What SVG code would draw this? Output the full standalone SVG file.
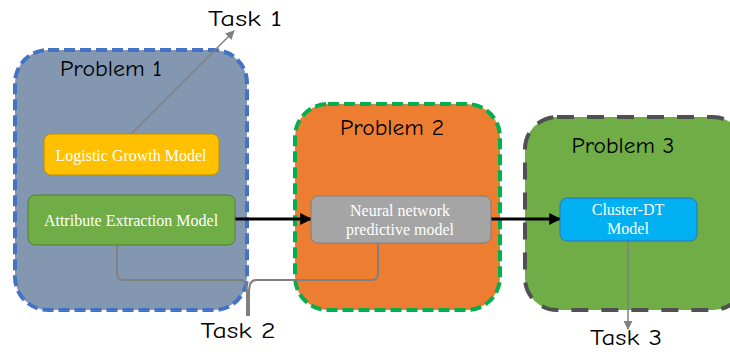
<svg xmlns="http://www.w3.org/2000/svg" width="730" height="352" viewBox="0 0 730 352">
<style>
.hand{font-family:"Comic Neue","DejaVu Sans",sans-serif;font-size:23px;fill:#000;text-anchor:middle}
.task{font-size:23px}
.lbl{font-family:"Liberation Serif","Times New Roman",serif;font-size:16px;fill:#fff;text-anchor:middle}
.prob{stroke-width:4}
.box{stroke-width:1}
.gray{fill:none;stroke:#808080}
.black{fill:none;stroke:#000;stroke-width:3}
</style>
<defs>
<marker id="ab" viewBox="0 0 10 10" refX="9" refY="5" markerWidth="4" markerHeight="4" orient="auto" markerUnits="strokeWidth"><path d="M0,0L10,5L0,10z" fill="#000"/></marker>
<marker id="ag" viewBox="0 0 10 10" refX="9" refY="5" markerWidth="6" markerHeight="6" orient="auto" markerUnits="strokeWidth"><path d="M0,0L10,5L0,10z" fill="#808080"/></marker>
</defs>
<rect width="730" height="352" fill="#fff"/>
<g id="problem1">
<rect class="prob" x="15" y="50" width="232" height="260" rx="33" fill="#8497B0" stroke="#4472C4" stroke-dasharray="11 5"/>
<text class="hand" x="111" y="76" textLength="102" lengthAdjust="spacingAndGlyphs">Problem 1</text>
</g>
<g id="problem2">
<rect class="prob" x="295" y="104" width="205" height="206" rx="33" fill="#ED7D31" stroke="#00B050" stroke-dasharray="11 5"/>
<text class="hand" x="392" y="135" textLength="104" lengthAdjust="spacingAndGlyphs">Problem 2</text>
</g>
<g id="problem3">
<rect class="prob" x="525" y="117" width="220" height="193" rx="32" fill="#70AD47" stroke="#505050" stroke-dasharray="17 13"/>
<text class="hand" x="623" y="153" textLength="103" lengthAdjust="spacingAndGlyphs">Problem 3</text>
</g>
<g id="connectors">
<line class="gray" x1="131" y1="134" x2="234" y2="31" stroke-width="1.5" marker-end="url(#ag)"/>
<line class="gray" x1="628" y1="241" x2="628" y2="329" stroke-width="1.5" marker-end="url(#ag)"/>
<path class="gray" stroke-width="2" d="M117,245 L117,273 Q117,280 124,280 L240,280 Q247,280 247,292 L247,316"/>
<path class="gray" stroke-width="2" d="M249,316 L249,292 Q249,280 256,280 L372,280 Q378,280 378,273 L378,243"/>
<line class="black" x1="235" y1="219" x2="311" y2="219" marker-end="url(#ab)"/>
<line class="black" x1="491" y1="219" x2="560" y2="219" marker-end="url(#ab)"/>
</g>
<g id="logistic">
<rect class="box" x="44" y="134" width="175" height="41" rx="7" fill="#FFC000" stroke="#BF9000"/>
<text class="lbl" x="131" y="161">Logistic Growth Model</text>
</g>
<g id="attribute">
<rect class="box" x="28" y="195" width="207" height="50" rx="7" fill="#70AD47" stroke="#507E32"/>
<text class="lbl" x="131" y="226">Attribute Extraction Model</text>
</g>
<g id="neural">
<rect class="box" x="311" y="196" width="180" height="47" rx="7" fill="#A5A5A5" stroke="#7F7F7F"/>
<text class="lbl" x="400" y="216">Neural network</text>
<text class="lbl" x="400" y="235">predictive model</text>
</g>
<g id="cluster">
<rect class="box" x="560" y="198" width="137" height="43" rx="7" fill="#00B0F0" stroke="#2E75B6"/>
<text class="lbl" x="628" y="215">Cluster-DT</text>
<text class="lbl" x="628" y="234">Model</text>
</g>
<g id="task1"><text class="hand task" x="245" y="26" textLength="74" lengthAdjust="spacingAndGlyphs">Task 1</text></g>
<g id="task2"><text class="hand task" x="238" y="338" textLength="75" lengthAdjust="spacingAndGlyphs">Task 2</text></g>
<g id="task3"><text class="hand task" x="626" y="345" textLength="72" lengthAdjust="spacingAndGlyphs">Task 3</text></g>
</svg>
